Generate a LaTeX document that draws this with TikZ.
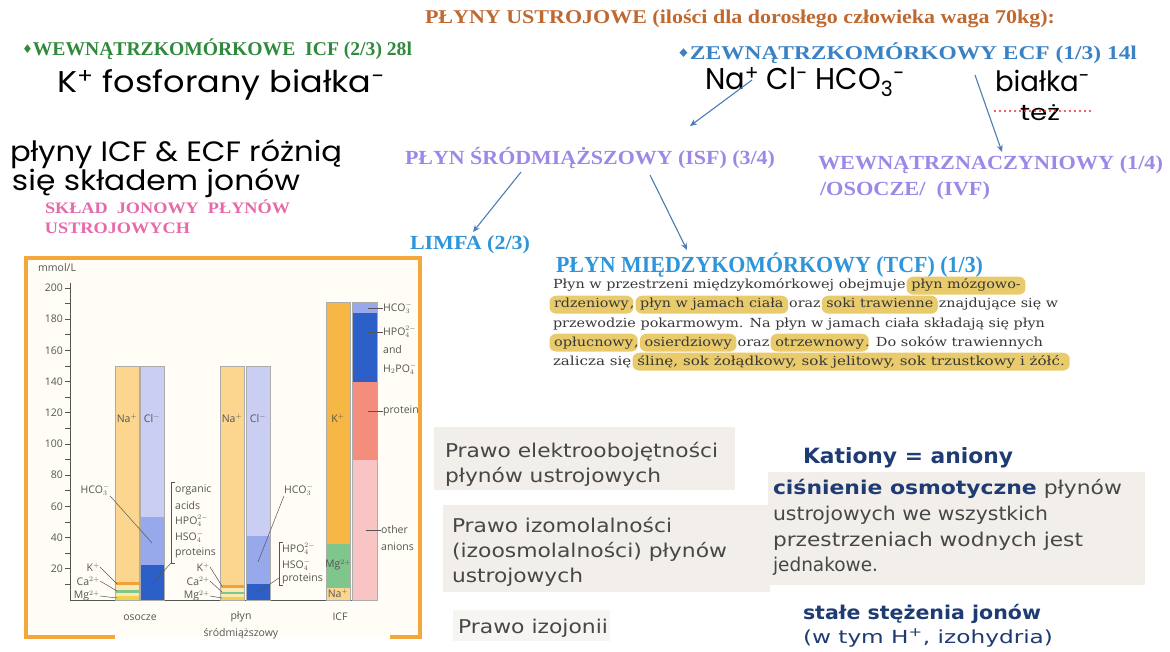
\documentclass[tikz,border=0pt]{standalone}
\usepackage{fontspec}
\usepackage{graphicx}
\usetikzlibrary{arrows.meta}
\setmainfont{Liberation Serif}
\newfontfamily\vsans{DejaVu Sans}
\newfontfamily\pserif{DejaVu Serif}
\newfontfamily\hand{Poppins}
\newfontfamily\cf{Open Sans}
\definecolor{titlec}{HTML}{BF6830}
\definecolor{greenc}{HTML}{2F8A3C}
\definecolor{ecfc}{HTML}{3A82C4}
\definecolor{purc}{HTML}{9D88E8}
\definecolor{bluec}{HTML}{2E95DA}
\definecolor{pinkc}{HTML}{E66AA9}
\definecolor{navyc}{HTML}{1E3B73}
\definecolor{grayt}{HTML}{474747}
\definecolor{boxc}{HTML}{F2EFEB}
\definecolor{boxd}{HTML}{F7F5F2}
\definecolor{arrc}{HTML}{4A7DB5}
\definecolor{hlc}{HTML}{E9CB6C}
\definecolor{parac}{HTML}{383838}
\definecolor{framec}{HTML}{F4A73A}
\definecolor{chartbg}{HTML}{FFFDF5}
\definecolor{nac}{HTML}{FCD68F}
\definecolor{clc}{HTML}{CACEF3}
\definecolor{hcoc}{HTML}{97A9EA}
\definecolor{dbc}{HTML}{2D5FC8}
\definecolor{kc}{HTML}{F7B744}
\definecolor{mgc}{HTML}{7FC68C}
\definecolor{salc}{HTML}{F48D7C}
\definecolor{pkc}{HTML}{F9C4C4}
\definecolor{ylc}{HTML}{F1D24E}
\definecolor{orc}{HTML}{EFA23C}
\definecolor{crc}{HTML}{FBE7B0}
\definecolor{ctext}{HTML}{555555}
\definecolor{redd}{HTML}{E8302A}
\newcommand\fw[2]{\resizebox{#1pt}{\height}{#2}}
\newcommand\hl[1]{\kern-3pt\relax\tikz[baseline=(hh.base)]\node[fill=hlc,rounded corners=6pt,inner xsep=4pt,inner ysep=2.5pt,outer sep=0pt,text depth=.25em,text height=.78em](hh){#1};\kern-3pt\relax}
\newcommand\seg[5]{\fill[#5] (#1,{600-1.56*(#3)}) rectangle (#2,{600-1.56*(#4)});}
\newcommand\barbox[4]{\draw[barline] (#1,{600-1.56*(#3)}) rectangle (#2,{600-1.56*(#4)});}
\newcommand\dia{{\vsans\fontsize{12}{12}\selectfont\raisebox{2pt}{♦}}}
\tikzset{
  lbl/.style={inner sep=0pt, outer sep=0pt, anchor=base west},
  hw/.style={lbl, text=black, font=\hand},
  arr/.style={draw=arrc, line width=1.1pt, -{Stealth[length=7pt,width=6pt]}},
  lead/.style={draw=ctext, line width=0.5pt},
  ctl/.style={inner sep=0pt, font={\cf\fontsize{10.5}{11}\selectfont}, text=ctext},
  barline/.style={draw=gray!65, line width=0.5pt},
}
\begin{document}
\begin{tikzpicture}[x=1pt,y=-1pt]
\path[use as bounding box] (0,0) rectangle (1170,652);
\fill[white] (0,0) rectangle (1170,652);

% ---------- headings ----------
\node[lbl,text=titlec] (title) at (425,24) {\fw{630}{\fontsize{19.5}{20}\selectfont\bfseries PŁYNY USTROJOWE (ilości dla dorosłego człowieka waga 70kg):}};
\node[lbl,text=greenc] (icf) at (22,56) {\fw{390}{\fontsize{19.5}{20}\selectfont\bfseries\dia WEWNĄTRZKOMÓRKOWE\ \ ICF (2/3) 28l}};
\node[lbl,text=ecfc] (ecf) at (677,60) {\fw{460}{\fontsize{19.5}{20}\selectfont\bfseries\dia ZEWNĄTRZKOMÓRKOWY ECF (1/3) 14l}};

% ---------- handwriting ----------
\node[hw] (hwk) at (57,93) {\fw{328}{\fontsize{30}{30}\selectfont K\textsuperscript{+} fosforany białka\textsuperscript{-}}};
\node[hw] (hwna) at (705,90) {\fw{200}{\fontsize{30}{30}\selectfont Na\textsuperscript{+} Cl\textsuperscript{-} HCO\textsubscript{3}\textsuperscript{-}}};
\node[hw] (hwb) at (995,92) {\fw{95}{\fontsize{28}{28}\selectfont białka\textsuperscript{-}}};
\node[hw] (hwt) at (1020,121) {\fw{40}{\fontsize{22}{22}\selectfont też}};
\coordinate (dotl) at (995,111);
\coordinate (dotr) at (1090,111);
\draw[redd, line width=2.2pt, line cap=round, dash pattern=on 0pt off 5pt] (dotl) -- (dotr);
\node[hw] (hwl1) at (10,162) {\fw{332}{\fontsize{28}{28}\selectfont płyny ICF \& ECF różnią}};
\node[hw] (hwl2) at (12,191) {\fw{288}{\fontsize{28}{28}\selectfont się składem jonów}};

% ---------- tree ----------
\node[lbl,text=pinkc] (skl1) at (45,214) {\fw{245}{\fontsize{16}{16}\selectfont\bfseries SKŁAD\ \ JONOWY\ \ PŁYNÓW}};
\node[lbl,text=pinkc] (skl2) at (45,234) {\fw{145}{\fontsize{16}{16}\selectfont\bfseries USTROJOWYCH}};
\node[lbl,text=purc] (isf) at (405,165) {\fw{370}{\fontsize{20}{20}\selectfont\bfseries PŁYN ŚRÓDMIĄŻSZOWY (ISF) (3/4)}};
\node[lbl,text=purc] (ivf1) at (818,170) {\fw{345}{\fontsize{20}{20}\selectfont\bfseries WEWNĄTRZNACZYNIOWY (1/4)}};
\node[lbl,text=purc] (ivf2) at (820,196) {\fw{170}{\fontsize{20}{20}\selectfont\bfseries /OSOCZE/\ \ (IVF)}};
\node[lbl,text=bluec] (limfa) at (410,250) {\fw{120}{\fontsize{20}{20}\selectfont\bfseries LIMFA (2/3)}};
\node[lbl,text=bluec] (tcf) at (556,273) {\fw{427}{\fontsize{23}{23}\selectfont\bfseries PŁYN MIĘDZYKOMÓRKOWY (TCF) (1/3)}};

\coordinate (a1s) at (752,80);  \coordinate (a1e) at (690,126);
\coordinate (a2s) at (975,75);  \coordinate (a2e) at (1002,152);
\coordinate (a3s) at (521,172); \coordinate (a3e) at (473,232);
\coordinate (a4s) at (650,175); \coordinate (a4e) at (687,250);
\draw[arr] (a1s) -- (a1e);
\draw[arr] (a2s) -- (a2e);
\draw[arr] (a3s) -- (a3e);
\draw[arr] (a4s) -- (a4e);

% ---------- paragraph ----------
\node[lbl,text=parac] (p1) at (553,289) {\fw{469}{\pserif\fontsize{12.5}{13}\selectfont Płyn w przestrzeni międzykomórkowej obejmuje \hl{płyn mózgowo-}}};
\node[lbl,text=parac] (p2) at (553,308) {\fw{505}{\pserif\fontsize{12.5}{13}\selectfont \hl{rdzeniowy}, \hl{płyn w jamach ciała} oraz \hl{soki trawienne} znajdujące się w}};
\node[lbl,text=parac] (p3) at (553,327) {\fw{492}{\pserif\fontsize{12.5}{13}\selectfont przewodzie pokarmowym. Na płyn w jamach ciała składają się płyn}};
\node[lbl,text=parac] (p4) at (553,346) {\fw{490}{\pserif\fontsize{12.5}{13}\selectfont \hl{opłucnowy}, \hl{osierdziowy} oraz \hl{otrzewnowy}. Do soków trawiennych}};
\node[lbl,text=parac] (p5) at (553,365) {\fw{513}{\pserif\fontsize{12.5}{13}\selectfont zalicza się \hl{ślinę, sok żołądkowy, sok jelitowy, sok trzustkowy i żółć.}}};

% ---------- chart ----------
\fill[chartbg] (26,258) rectangle (420,637);
\draw[framec, line width=3.5pt] (115,637) -- (26,637) -- (26,258) -- (420,258) -- (420,637) -- (390,637);
\node[ctl,anchor=west] (mmol) at (38,268) {mmol/L};
\draw[ctext, line width=0.8pt] (70,{600-1.56*203}) -- (70,600) -- (376,600);
\foreach \v in {10,20,...,200} \draw[ctext, line width=0.7pt] (65,{600-1.56*\v}) -- (70,{600-1.56*\v});
\foreach \v in {20,40,...,200} \node[ctl,anchor=east] at (63,{600-1.56*\v}) {\v};

% osocze
\seg{115}{139}{11.5}{150}{nac}
\seg{115}{139}{9.6}{11.5}{orc}
\seg{115}{139}{6.4}{9.6}{crc}
\seg{115}{139}{4.3}{6.4}{mgc}
\seg{115}{139}{2.6}{4.3}{crc}
\seg{115}{139}{0}{2.6}{ylc}
\barbox{115}{139}{0}{150}
\seg{140}{164}{53}{150}{clc}
\seg{140}{164}{22.5}{53}{hcoc}
\seg{140}{164}{0}{22.5}{dbc}
\barbox{140}{164}{0}{150}
% plyn
\seg{220}{244}{9.6}{150}{nac}
\seg{220}{244}{7.6}{9.6}{orc}
\seg{220}{244}{5.4}{7.6}{crc}
\seg{220}{244}{3.6}{5.4}{mgc}
\seg{220}{244}{2.2}{3.6}{crc}
\seg{220}{244}{0}{2.2}{ylc}
\barbox{220}{244}{0}{150}
\seg{246}{270}{41}{150}{clc}
\seg{246}{270}{10}{41}{hcoc}
\seg{246}{270}{0}{10}{dbc}
\barbox{246}{270}{0}{150}
% ICF
\seg{326}{350}{36}{191}{kc}
\seg{326}{350}{8}{36}{mgc}
\seg{326}{350}{0}{8}{nac}
\barbox{326}{350}{0}{191}
\seg{352}{377}{184}{191}{hcoc}
\seg{352}{377}{140}{184}{dbc}
\seg{352}{377}{90}{140}{salc}
\seg{352}{377}{0}{90}{pkc}
\barbox{352}{377}{0}{191}

% bar labels
\node[ctl] (na1) at (127,418) {Na$^+$};
\node[ctl] (cl1) at (152,418) {Cl$^-$};
\node[ctl] (na2) at (232,418) {Na$^+$};
\node[ctl] (cl2) at (258,418) {Cl$^-$};
\node[ctl] (k3) at (338,418) {K$^+$};
\node[ctl] (mg3) at (338,565) {Mg$^{2+}$};
\node[ctl] (na3) at (338,593) {Na$^+$};

% osocze side labels
\node[ctl,anchor=east] (hco1) at (110,490) {HCO$_3^-$};
\coordinate (hco1e) at (152,543);
\draw[lead] (hco1.south east) -- (hco1e);
\draw[lead] (175,482) -- (171,482) -- (171,563) -- (175,563);
\node[ctl,anchor=west] (oa1) at (175,490) {organic};
\node[ctl,anchor=west] (oa2) at (175,506) {acids};
\node[ctl,anchor=west] (oa3) at (175,521) {HPO$_4^{2-}$};
\node[ctl,anchor=west] (oa4) at (175,537) {HSO$_4^-$};
\node[ctl,anchor=west] (oa5) at (175,553) {proteins};
\coordinate (br1) at (171,563); \coordinate (br1e) at (152,584);
\draw[lead] (br1) -- (br1e);
\node[ctl,anchor=east] (k1) at (100,567) {K$^+$};
\node[ctl,anchor=east] (ca1) at (100,581) {Ca$^{2+}$};
\node[ctl,anchor=east] (mg1) at (100,596) {Mg$^{2+}$};
\coordinate (k1e) at (117,584); \coordinate (ca1e) at (117,591); \coordinate (mg1e) at (117,598);
\draw[lead] (k1.east) -- (k1e);
\draw[lead] (ca1.east) -- (ca1e);
\draw[lead] (mg1.east) -- (mg1e);

% plyn side labels
\node[ctl,anchor=west] (hco2) at (284,490) {HCO$_3^-$};
\coordinate (hco2e) at (258,562);
\draw[lead] (hco2.south west) -- (hco2e);
\draw[lead] (283,542) -- (279,542) -- (279,585) -- (283,585);
\node[ctl,anchor=west] (pp1) at (282,549) {HPO$_4^{2-}$};
\node[ctl,anchor=west] (pp2) at (282,565) {HSO$_4^-$};
\node[ctl,anchor=west] (pp3) at (282,579) {proteins};
\coordinate (br2) at (279,578); \coordinate (br2e) at (258,592);
\draw[lead] (br2) -- (br2e);
\node[ctl,anchor=east] (k2) at (210,567) {K$^+$};
\node[ctl,anchor=east] (ca2) at (210,581) {Ca$^{2+}$};
\node[ctl,anchor=east] (mg2) at (210,596) {Mg$^{2+}$};
\coordinate (k2e) at (222,586); \coordinate (ca2e) at (222,592); \coordinate (mg2e) at (222,598);
\draw[lead] (k2.east) -- (k2e);
\draw[lead] (ca2.east) -- (ca2e);
\draw[lead] (mg2.east) -- (mg2e);

% ICF side labels
\node[ctl,anchor=west] (ih1) at (383,308) {HCO$_3^-$};
\node[ctl,anchor=west] (ih2) at (383,332) {HPO$_4^{2-}$};
\node[ctl,anchor=west] (ih3) at (383,350) {and};
\node[ctl,anchor=west] (ih4) at (383,369) {H$_2$PO$_4^-$};
\node[ctl,anchor=west] (ih5) at (383,411) {protein};
\node[ctl,anchor=west] (ih6) at (381,530) {other};
\node[ctl,anchor=west] (ih7) at (381,547) {anions};
\coordinate (l1) at (368,308); \coordinate (l2) at (368,332); \coordinate (l5) at (368,411); \coordinate (l6) at (366,530);
\draw[lead] (l1) -- (ih1.west);
\draw[lead] (l2) -- (ih2.west);
\draw[lead] (l5) -- (ih5.west);
\draw[lead] (l6) -- (ih6.west);

% x labels
\node[ctl] (xo) at (140,618) {osocze};
\node[ctl] (xp1) at (241,617) {płyn};
\node[ctl] (xp2) at (241,634) {śródmiąższowy};
\node[ctl] (xi) at (340,617) {ICF};

% ---------- laws ----------
\fill[boxc] (434,427) rectangle (735,490);
\fill[boxc] (443,505) rectangle (770,592);
\fill[boxd] (453,610) rectangle (610,641);
\fill[boxc] (768,472) rectangle (1145,585);
\node[lbl,text=grayt] (b1a) at (445,457) {\fw{273}{\vsans\fontsize{19}{19}\selectfont Prawo elektroobojętności}};
\node[lbl,text=grayt] (b1b) at (445,482) {\fw{216}{\vsans\fontsize{19}{19}\selectfont płynów ustrojowych}};
\node[lbl,text=grayt] (b2a) at (452,532) {\fw{220}{\vsans\fontsize{19}{19}\selectfont Prawo izomolalności}};
\node[lbl,text=grayt] (b2b) at (452,557) {\fw{275}{\vsans\fontsize{19}{19}\selectfont (izoosmolalności) płynów}};
\node[lbl,text=grayt] (b2c) at (452,582) {\fw{131}{\vsans\fontsize{19}{19}\selectfont ustrojowych}};
\node[lbl,text=grayt] (b3) at (458,633) {\fw{150}{\vsans\fontsize{19}{19}\selectfont Prawo izojonii}};

\node[lbl,text=navyc] (kat) at (803,463) {\fw{210}{\vsans\bfseries\fontsize{21}{21}\selectfont Kationy = aniony}};
\node[lbl] (c1) at (773,494) {\fw{349}{\vsans\fontsize{19}{19}\selectfont{\bfseries\color{navyc}ciśnienie osmotyczne} {\color{grayt}płynów}}};
\node[lbl,text=grayt] (c2) at (773,520) {\fw{275}{\vsans\fontsize{19}{19}\selectfont ustrojowych we wszystkich}};
\node[lbl,text=grayt] (c3) at (773,546) {\fw{310}{\vsans\fontsize{19}{19}\selectfont przestrzeniach wodnych jest}};
\node[lbl,text=grayt] (c4) at (773,571) {\fw{105}{\vsans\fontsize{19}{19}\selectfont jednakowe.}};
\node[lbl,text=navyc] (s1) at (803,619) {\fw{238}{\vsans\bfseries\fontsize{19}{19}\selectfont stałe stężenia jonów}};
\node[lbl,text=navyc] (s2) at (803,643) {\fw{250}{\vsans\fontsize{18}{18}\selectfont (w tym H\textsuperscript{+}, izohydria)}};
\end{tikzpicture}
\end{document}
